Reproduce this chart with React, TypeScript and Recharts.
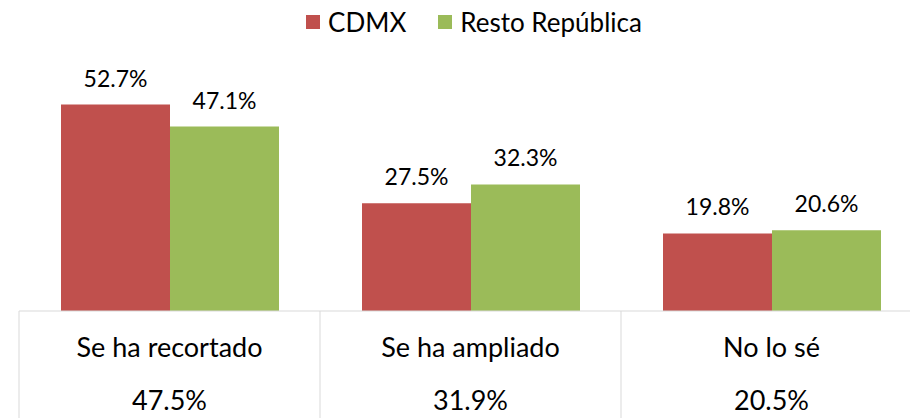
import React from 'react';
import { BarChart, Bar, XAxis, YAxis, LabelList, Legend } from 'recharts';

const categories = ['Se ha recortado', 'Se ha ampliado', 'No lo sé'];
const cdmxValues = [52.7, 27.5, 19.8];
const restoValues = [47.1, 32.3, 20.6];
const totalLabels = ['47.5%', '31.9%', '20.5%'];
const seriesNames = ['CDMX', 'Resto República'];
const seriesColors = ['#C0504D', '#9BBB59'];

const data = categories.map((name, i) => ({
  name,
  cdmx: cdmxValues[i],
  resto: restoValues[i],
  total: totalLabels[i],
}));

const FONT = 'Lato, "DejaVu Sans", sans-serif';
const CHART_W = 922;
const CHART_H = 418;
const MARGIN = { top: 76, right: 0, bottom: 0, left: 19 };
const HALF_BAND = (CHART_W - MARGIN.left - MARGIN.right) / categories.length / 2;
const AXIS_H = 107;

const CategoryTick = (props: any) => {
  const { x, y, payload, index } = props;
  return (
    <g>
      <line x1={x - HALF_BAND} x2={x - HALF_BAND} y1={y} y2={y + AXIS_H} stroke="#D9D9D9" strokeWidth={1} />
      <text x={x} y={y + 46} textAnchor="middle" fontFamily={FONT} fontSize={27} fill="#000">
        {payload.value}
      </text>
      <text x={x} y={y + 99} textAnchor="middle" fontFamily={FONT} fontSize={27} fill="#000">
        {totalLabels[index]}
      </text>
    </g>
  );
};

const LegendContent = () => (
  <div
    style={{
      display: 'flex',
      justifyContent: 'center',
      alignItems: 'center',
      height: 44,
      fontFamily: FONT,
      fontSize: 26,
      color: '#000',
    }}
  >
    {seriesNames.map((n, i) => (
      <div key={n} style={{ display: 'flex', alignItems: 'center', marginRight: i === 0 ? 32 : 0 }}>
        <div style={{ width: 14, height: 14, background: seriesColors[i], marginRight: 8 }} />
        <span>{n}</span>
      </div>
    ))}
  </div>
);

export default function App() {
  return (
    <div style={{ position: 'absolute', left: 0, top: 0, width: 910, height: 418, overflow: 'hidden', background: '#fff' }}>
      <BarChart width={CHART_W} height={CHART_H} data={data} margin={MARGIN} barGap={0}>
        <YAxis hide domain={[0, 60]} />
        <XAxis
          dataKey="name"
          height={AXIS_H}
          axisLine={{ stroke: '#D9D9D9', strokeWidth: 1 }}
          tickLine={false}
          tickSize={0}
          tickMargin={0}
          interval={0}
          tick={<CategoryTick />}
        />
        <Legend
          verticalAlign="middle"
          align="center"
          layout="horizontal"
          wrapperStyle={{ top: 0, left: 0, width: 948, height: 44 }}
          content={<LegendContent />}
        />
        <Bar dataKey="cdmx" name={seriesNames[0]} fill={seriesColors[0]} barSize={109} isAnimationActive={false}>
          <LabelList
            dataKey="cdmx"
            position="top"
            offset={18}
            formatter={(v: any) => `${Number(v).toFixed(1)}%`}
            style={{ fontFamily: FONT, fontSize: 23, fill: '#000' }}
          />
        </Bar>
        <Bar dataKey="resto" name={seriesNames[1]} fill={seriesColors[1]} barSize={109} isAnimationActive={false}>
          <LabelList
            dataKey="resto"
            position="top"
            offset={18}
            formatter={(v: any) => `${Number(v).toFixed(1)}%`}
            style={{ fontFamily: FONT, fontSize: 23, fill: '#000' }}
          />
        </Bar>
      </BarChart>
    </div>
  );
}
